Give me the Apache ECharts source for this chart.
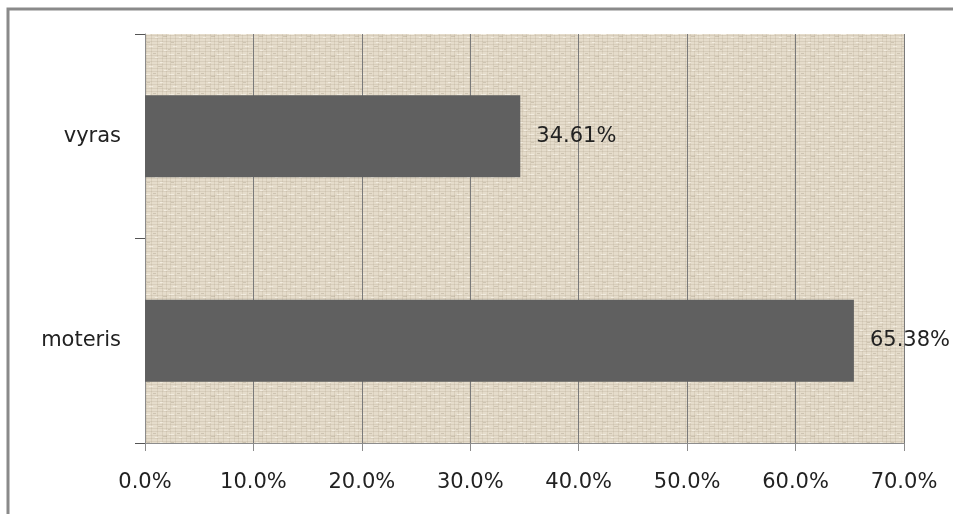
<!DOCTYPE html>
<html>
<head>
<meta charset="utf-8">
<script src="https://cdn.jsdelivr.net/npm/echarts@6/dist/echarts.min.js"></script>
<style>
    html, body { margin: 0; padding: 0; background: #fff; }
    #chart { width: 953px; height: 514px; }
</style>
</head>
<body>
<div id="chart"></div>
<script>
// duomenys
var categories = ['moteris', 'vyras'];
var shares = [0.6538, 0.3461];
var tickMax = 0.7;
var tickStep = 0.1;

// burlap-like background texture for the plot area (fixed weave, no randomness)
function makeTexture() {
    var c = document.createElement('canvas');
    c.width = 24;
    c.height = 20;
    var ctx = c.getContext('2d');
    ctx.fillStyle = '#e5dccb';
    ctx.fillRect(0, 0, 24, 20);
    // horizontal threads
    ctx.fillStyle = 'rgba(175,160,135,0.22)';
    [1, 4, 8, 11, 15, 18].forEach(function (y) { ctx.fillRect(0, y, 24, 1); });
    // vertical threads
    ctx.fillStyle = 'rgba(170,155,130,0.2)';
    [2, 7, 13, 18, 22].forEach(function (x) { ctx.fillRect(x, 0, 1, 20); });
    // darker specks
    ctx.fillStyle = 'rgba(140,125,100,0.25)';
    [[3, 2, 3], [14, 6, 4], [9, 13, 3], [19, 16, 4], [0, 9, 2]].forEach(function (s) {
        ctx.fillRect(s[0], s[1], s[2], 1);
    });
    // light specks
    ctx.fillStyle = 'rgba(255,252,244,0.5)';
    [[5, 6, 4], [16, 2, 3], [1, 14, 5], [11, 17, 3], [20, 10, 3]].forEach(function (s) {
        ctx.fillRect(s[0], s[1], s[2], 1);
    });
    return c;
}

var chart = echarts.init(document.getElementById('chart'));
var textColor = '#222';
var font = 'DejaVu Sans';

chart.setOption({
    backgroundColor: '#fff',
    animation: false,
    graphic: [{
        type: 'rect',
        shape: { x: 8, y: 9, width: 960, height: 520 },
        style: { fill: 'none', stroke: '#8a8a8a', lineWidth: 3 },
        silent: true
    }],
    grid: {
        left: 145,
        right: 49,
        top: 34,
        bottom: 71,
        show: true,
        borderWidth: 0,
        backgroundColor: { image: makeTexture(), repeat: 'repeat' }
    },
    xAxis: {
        type: 'value',
        min: 0,
        max: tickMax,
        interval: tickStep,
        axisLine: { show: true, lineStyle: { color: '#8c8c8c', width: 1 } },
        axisTick: { show: true, length: 8, lineStyle: { color: '#8c8c8c' } },
        splitLine: { show: true, lineStyle: { color: '#7a7a7a', width: 1 } },
        axisLabel: {
            margin: 29,
            color: textColor,
            fontFamily: font,
            fontSize: 21,
            formatter: function (v) { return (v * 100).toFixed(1) + '%'; }
        }
    },
    yAxis: {
        type: 'category',
        data: categories,
        axisLine: { show: true, lineStyle: { color: '#8c8c8c', width: 1 } },
        axisTick: { show: true, length: 10, lineStyle: { color: '#555' } },
        splitLine: { show: false },
        axisLabel: {
            margin: 24,
            color: textColor,
            fontFamily: font,
            fontSize: 21
        }
    },
    series: [{
        type: 'bar',
        data: shares,
        barWidth: '40%',
        itemStyle: { color: '#606060' },
        label: {
            show: true,
            position: 'right',
            distance: 16,
            color: textColor,
            fontFamily: font,
            fontSize: 21,
            formatter: function (p) { return (p.value * 100).toFixed(2) + '%'; }
        }
    }]
});
</script>
</body>
</html>
